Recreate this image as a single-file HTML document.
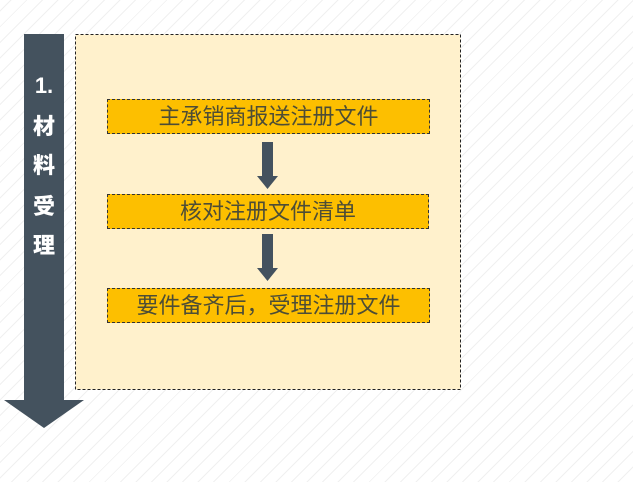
<!DOCTYPE html>
<html><head><meta charset="utf-8"><style>
body{margin:0;width:633px;height:482px;overflow:hidden;position:relative;
background:#fff repeating-linear-gradient(-45deg,#fff 0,#fff 10px,#f0f0f0 10px,#f0f0f0 11px);
font-family:"Liberation Sans","Noto Sans CJK SC",sans-serif;}
.a{position:absolute}
.box{position:absolute;background:#fdbf00;border:1px dashed #333;box-sizing:border-box;color:#4d4d36;font-size:22px;text-align:center;}
.lt{position:absolute;left:24px;width:40px;text-align:center;color:#fff;font-weight:900;font-size:22px;line-height:26px}
</style></head><body>
<svg class="a" style="left:0;top:0" width="633" height="482">
<rect x="24" y="34" width="40" height="367" fill="#44525e"/>
<polygon points="4,400 84,400 44,428" fill="#44525e"/>
<rect x="75.5" y="34.5" width="385" height="355" fill="#fff1cc" stroke="#222" stroke-dasharray="3,2"/>
<rect x="262" y="142" width="11" height="36" fill="#44525e"/>
<polygon points="257,176 278,176 267.5,189" fill="#44525e"/>
<rect x="262" y="234" width="11" height="36" fill="#44525e"/>
<polygon points="257,268 278,268 267.5,281" fill="#44525e"/>
</svg>
<div class="lt" style="top:73px">1.</div>
<div class="lt" style="top:114px">材</div>
<div class="lt" style="top:153px">料</div>
<div class="lt" style="top:194px">受</div>
<div class="lt" style="top:233px">理</div>
<div class="box" style="left:107px;top:99px;width:323px;height:35px;line-height:33px">主承销商报送注册文件</div>
<div class="box" style="left:107px;top:194px;width:322px;height:35px;line-height:33px">核对注册文件清单</div>
<div class="box" style="left:107px;top:288px;width:323px;height:35px;line-height:33px">要件备齐后，受理注册文件</div>
</body></html>
